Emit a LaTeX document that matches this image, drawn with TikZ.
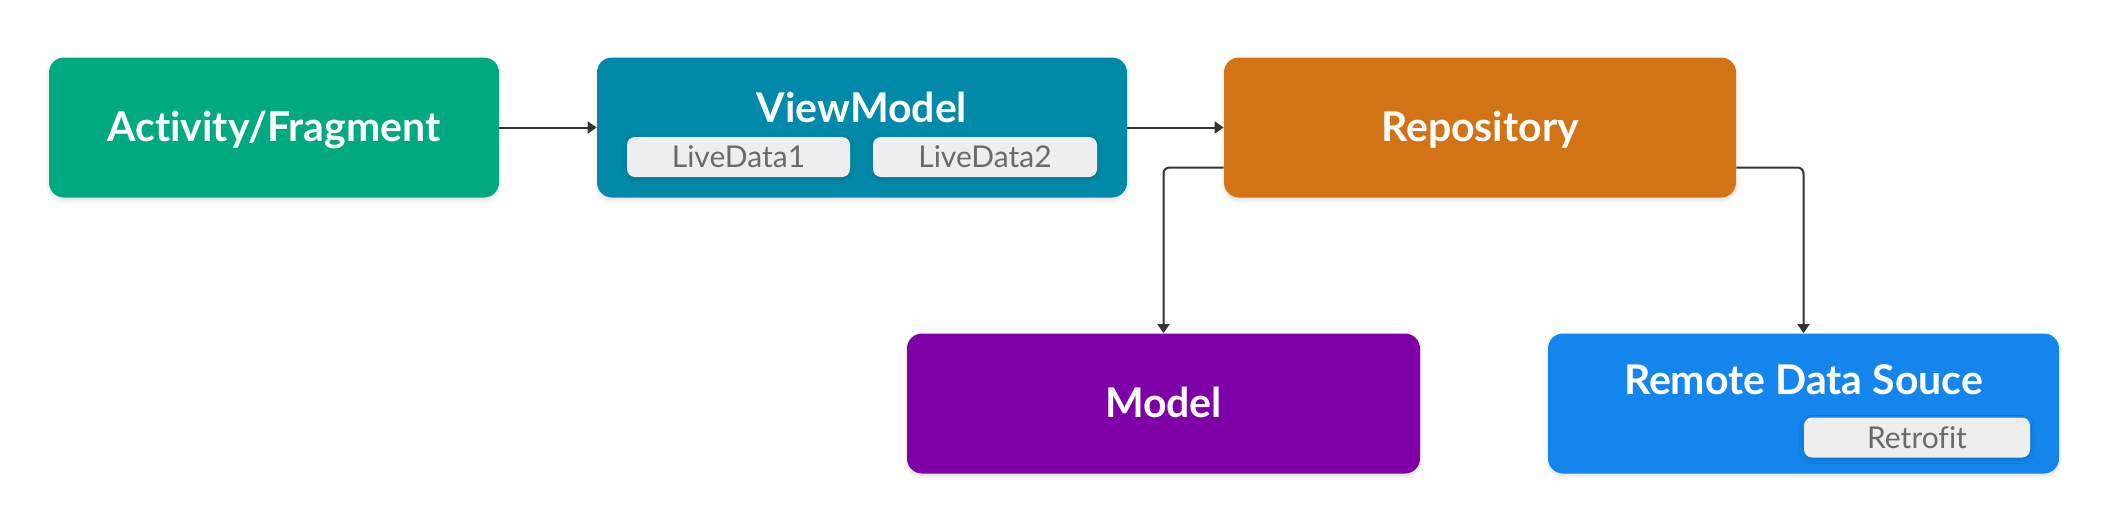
\documentclass[tikz,border=0pt]{standalone}
\usepackage{fontspec}
\setmainfont{Lato}[Ligatures=NoCommon]
\usepackage{xcolor}
\usepackage{tikz}
\usetikzlibrary{arrows.meta,positioning,shadows.blur}

\definecolor{actgreen}{HTML}{00A97F}
\definecolor{vmteal}{HTML}{0089A8}
\definecolor{repoorange}{HTML}{D27316}
\definecolor{modelpurple}{HTML}{7F00A7}
\definecolor{remoteblue}{HTML}{1485EC}
\definecolor{pillgray}{HTML}{EEEEEE}
\definecolor{pilltext}{HTML}{6A6A6A}
\definecolor{linegray}{HTML}{333333}

\begin{document}
\begin{tikzpicture}[
    x=0.5pt, y=-0.5pt,
    block/.style={rectangle, rounded corners=7.5pt, draw=none, minimum height=70pt,
        text=white, font=\bfseries\fontsize{20.5}{24}\selectfont,
        text height=15pt, text depth=1pt,
        blur shadow={shadow blur steps=6, shadow xshift=0pt, shadow yshift=-1.5pt, shadow opacity=12}},
    title/.style={text=white, font=\bfseries\fontsize{20.5}{24}\selectfont,
        text height=15pt, text depth=1pt},
    pill/.style={rectangle, rounded corners=4pt, fill=pillgray, minimum height=20pt,
        text=pilltext, font=\fontsize{15}{17}\selectfont,
        text height=11pt, text depth=0.5pt,
        blur shadow={shadow blur steps=4, shadow xshift=0pt, shadow yshift=-1pt, shadow opacity=15}},
    conn/.style={draw=linegray, line width=1pt, -{Triangle[length=4.5pt,width=6pt]}}
]
    \useasboundingbox (0,0) rectangle (2110,530);

    % Activity / Fragment
    \node[block, fill=actgreen, minimum width=225pt] (act) at (274,127.5) {Activity/Fragment};

    % ViewModel with its live data
    \node[block, fill=vmteal, minimum width=265pt] (vm) at (862,127.5) {};
    \node[title] (vmtitle) at (862,108) {ViewModel};
    \node[pill, minimum width=111.5pt] (ld1) at (738.5,157) {LiveData1};
    \node[pill, minimum width=112pt] (ld2) at (985,157) {LiveData2};

    % Repository
    \node[block, fill=repoorange, minimum width=256pt] (repo) at (1480,127.5) {Repository};

    % Model
    \node[block, fill=modelpurple, minimum width=256.5pt] (model) at (1163.5,403.5) {Model};

    % Remote data source
    \node[block, fill=remoteblue, minimum width=255.5pt] (remote) at (1803.5,403.5) {};
    \node[title] (remotetitle) at (1803.5,380) {Remote Data Souce};
    \node[pill, minimum width=113pt] (retro) at (1917,437.5) {Retrofit};

    \draw[conn] (act) -- (vm);
    \draw[conn] (vm) -- (repo);
    \draw[conn, rounded corners=3pt] ([yshift=-20pt]repo.west) -| (model.north);
    \draw[conn, rounded corners=3pt] ([yshift=-20pt]repo.east) -| (remote.north);
\end{tikzpicture}
\end{document}
